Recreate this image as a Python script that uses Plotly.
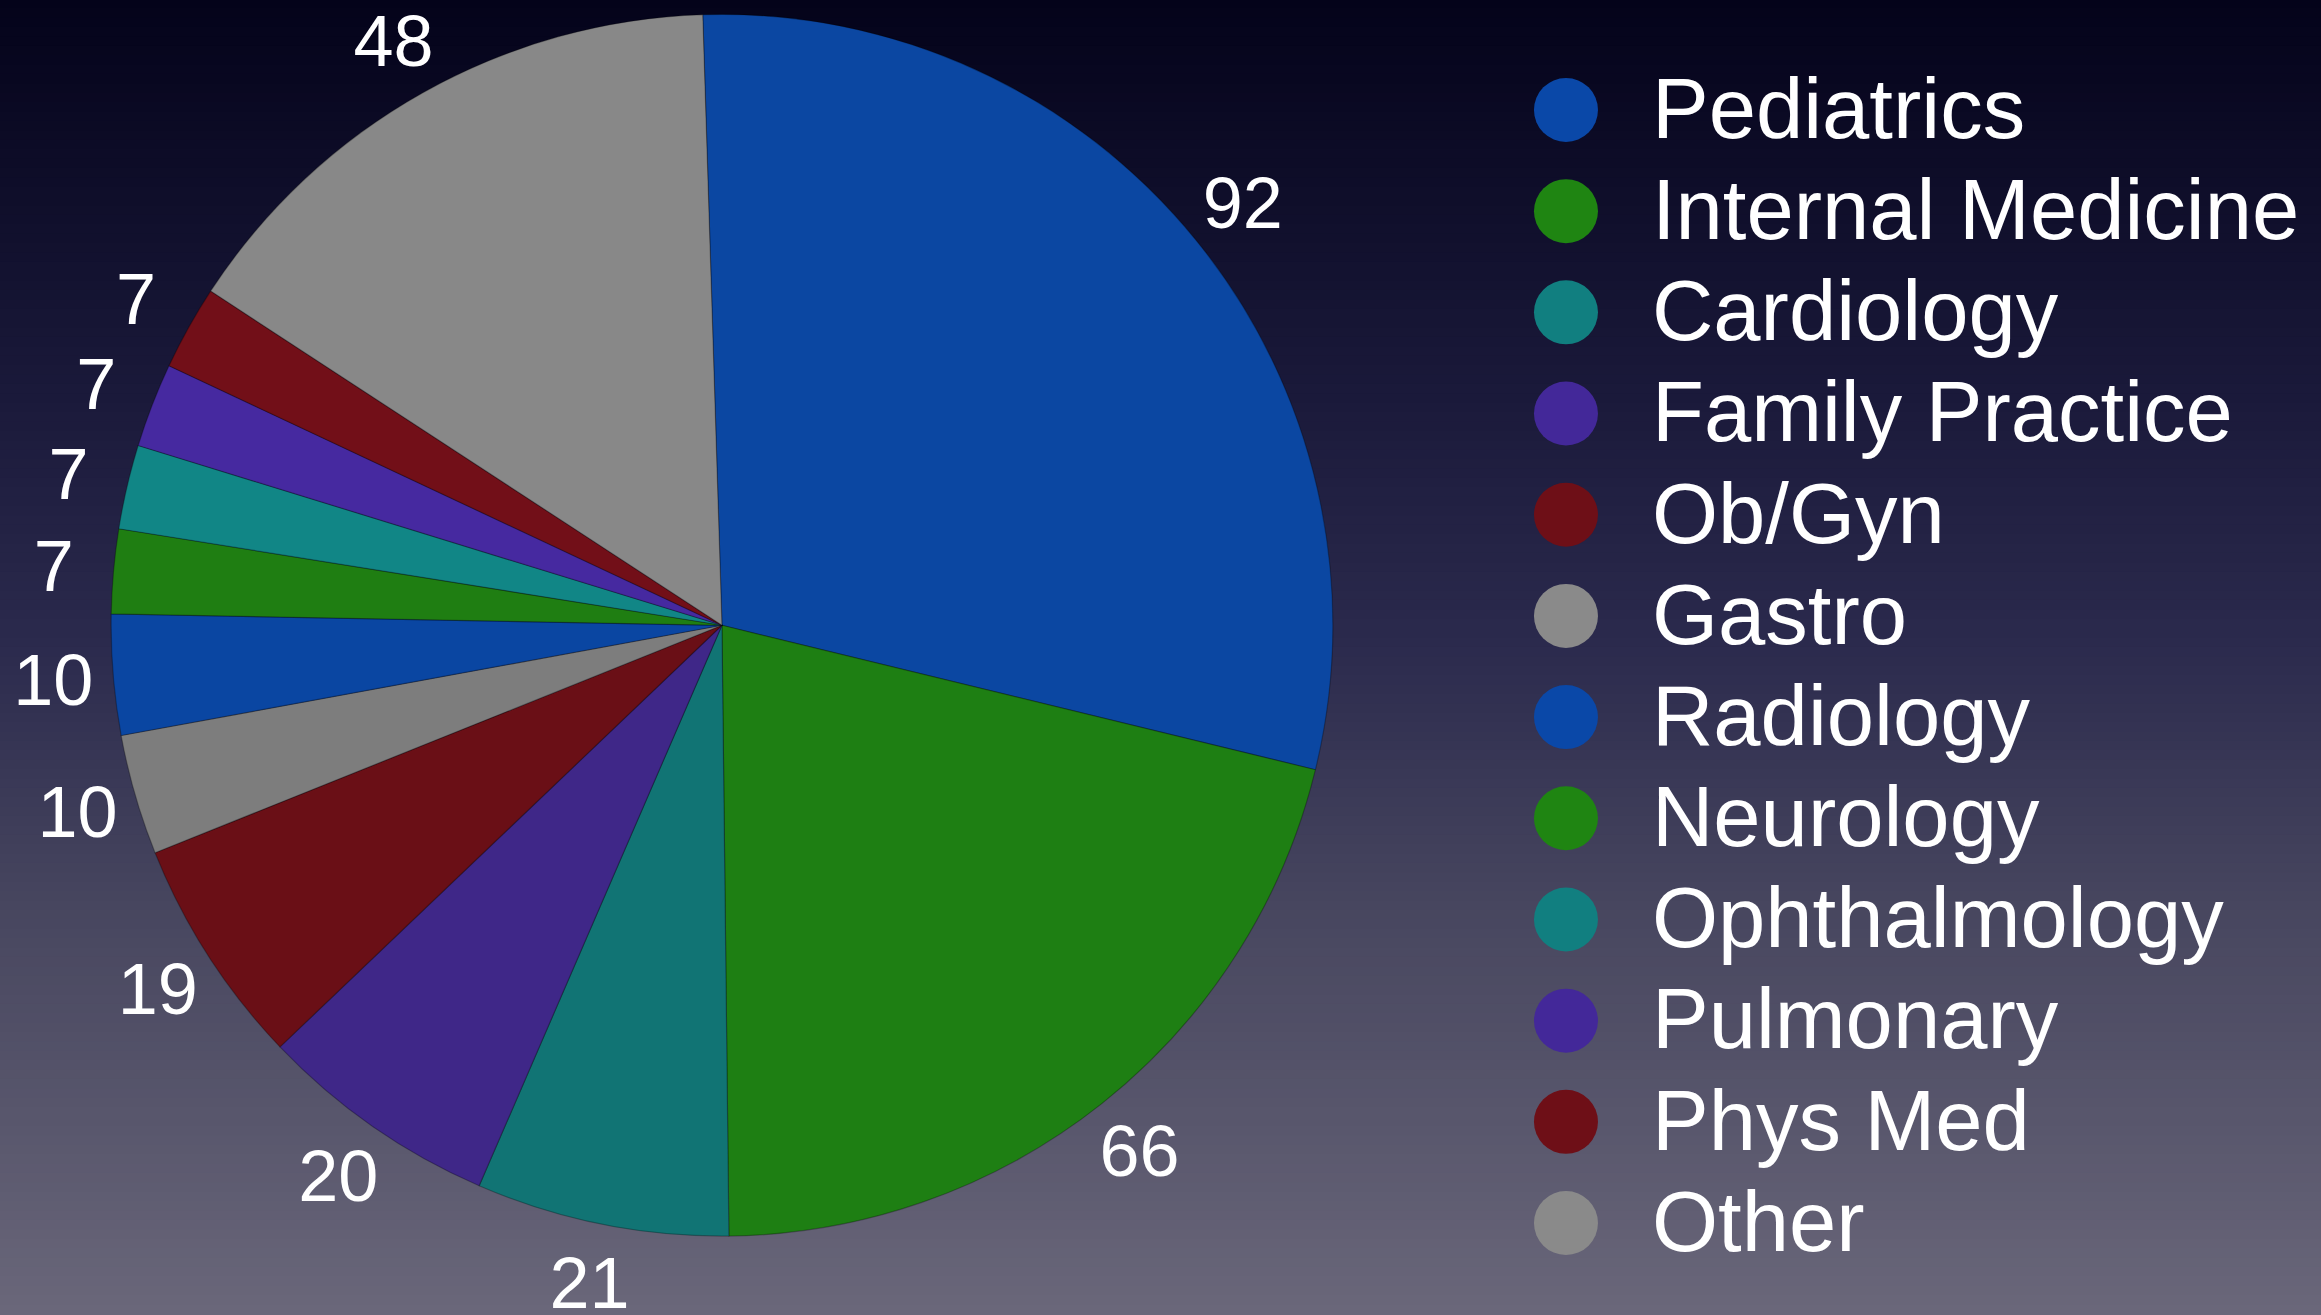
import math
import plotly.graph_objects as go

# ---- data ----
specialties = ["Pediatrics", "Internal Medicine", "Cardiology", "Family Practice", "Ob/Gyn",
               "Gastro", "Radiology", "Neurology", "Ophthalmology", "Pulmonary", "Phys Med", "Other"]
counts = [92, 66, 21, 20, 19, 10, 10, 7, 7, 7, 7, 48]

# ---- styles ----
slice_colors = ["#0B47A2", "#1E7F13", "#117474", "#3F2788", "#6A0F16", "#7D7D7D",
                "#0A46A2", "#1F7E12", "#118686", "#4629A0", "#720F18", "#888888"]
legend_colors = ["#0A48A8", "#1F8512", "#117F80", "#432899", "#6E0F17", "#8A8A8A",
                 "#0A48A8", "#1F8512", "#117F80", "#432899", "#6E0F17", "#8A8A8A"]
FONT = "Liberation Sans, Arial, Helvetica, sans-serif"
W, H = 2321, 1315
ROTATION = -1.8
PIE_DOMAIN = dict(x=[0.0478, 0.5743], y=[0.060, 0.989])
LABEL_RADIUS = 1.098   # in units of the pie radius
LABEL_BASELINE_SHIFT = -0.012  # small downward nudge so digit glyphs centre on the radial point

fig = go.Figure()

fig.add_trace(go.Pie(
    labels=specialties,
    values=counts,
    sort=False,
    direction="clockwise",
    rotation=ROTATION,
    marker=dict(colors=slice_colors, line=dict(color="rgba(0,0,0,0.28)", width=1.2)),
    textinfo="none",
    showlegend=False,
    hoverinfo="label+value",
    domain=PIE_DOMAIN,
))

# value labels placed radially outside each slice, on an overlay axis pair whose
# unit equals the pie radius and whose origin is the pie centre
total = sum(counts)
lx, ly = [], []
acc = 0.0
for v in counts:
    ang = math.radians(ROTATION + (acc + v / 2) / total * 360.0)
    lx.append(LABEL_RADIUS * math.sin(ang))
    ly.append(LABEL_RADIUS * math.cos(ang) + LABEL_BASELINE_SHIFT)
    acc += v

r_px = (PIE_DOMAIN["x"][1] - PIE_DOMAIN["x"][0]) * W / 2
cx_px = (PIE_DOMAIN["x"][0] + PIE_DOMAIN["x"][1]) / 2 * W
cy_px = (PIE_DOMAIN["y"][0] + PIE_DOMAIN["y"][1]) / 2 * H  # from bottom
x2_range = [-cx_px / r_px, (W - cx_px) / r_px]
y2_range = [-cy_px / r_px, (H - cy_px) / r_px]

fig.add_trace(go.Scatter(
    x=lx, y=ly, mode="text", text=[str(v) for v in counts],
    textposition="middle center",
    textfont=dict(color="white", size=72, family=FONT),
    xaxis="x2", yaxis="y2", showlegend=False, hoverinfo="skip", cliponaxis=False,
))

# legend drawn as scatter markers + text
rows = list(range(len(specialties)))
fig.add_trace(go.Scatter(
    x=[0] * len(rows), y=rows, mode="markers",
    marker=dict(size=64, color=legend_colors, line=dict(width=0)),
    xaxis="x", yaxis="y", showlegend=False, hoverinfo="skip",
))
fig.add_trace(go.Scatter(
    x=[1] * len(rows), y=[r + 0.065 for r in rows], mode="text", text=specialties,
    textposition="middle right",
    textfont=dict(color="white", size=85, family=FONT),
    xaxis="x", yaxis="y", showlegend=False, hoverinfo="skip",
))

# background gradient (vertical)
stops = [(0.0, (4, 3, 26)), (0.30, (26, 25, 58)), (0.50, (44, 43, 78)),
         (0.68, (70, 69, 94)), (0.85, (88, 86, 108)), (1.0, (106, 103, 122))]


def col_at(t):
    for (t0, c0), (t1, c1) in zip(stops[:-1], stops[1:]):
        if t0 <= t <= t1:
            f = (t - t0) / (t1 - t0)
            return "rgb(%d,%d,%d)" % tuple(round(a + (b - a) * f) for a, b in zip(c0, c1))
    return "rgb(%d,%d,%d)" % stops[-1][1]


N = 140
shapes = []
for i in range(N):
    t = (i + 0.5) / N  # from top
    shapes.append(dict(type="rect", xref="paper", yref="paper", layer="below",
                       x0=0, x1=1, y0=1 - (i + 1) / N - 0.001, y1=1 - i / N + 0.001,
                       fillcolor=col_at(t), line=dict(width=0)))

fig.update_layout(
    width=W, height=H,
    margin=dict(l=0, r=0, t=0, b=0),
    paper_bgcolor="#2C2B4E",
    plot_bgcolor="rgba(0,0,0,0)",
    shapes=shapes,
    xaxis=dict(domain=[0.6, 1.0], range=[-2.016, 8.78], visible=False, fixedrange=True),
    yaxis=dict(domain=[0, 1], range=[11.909, -1.087], visible=False, fixedrange=True),
    xaxis2=dict(domain=[0, 1], range=x2_range, visible=False, fixedrange=True),
    yaxis2=dict(domain=[0, 1], range=y2_range, visible=False, fixedrange=True),
    showlegend=False,
)

fig.write_html("out.html", config={"displayModeBar": False},
               post_script="document.body.style.margin='0';document.body.style.background='#2C2B4E';")
